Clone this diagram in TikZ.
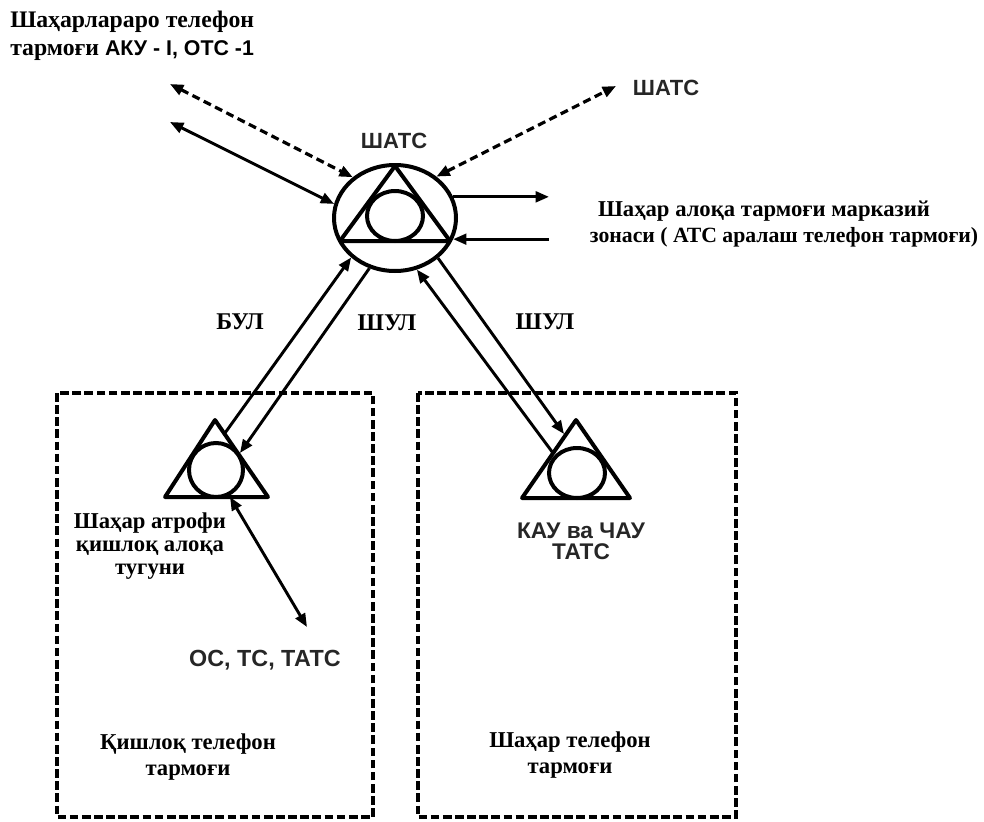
\documentclass[tikz,border=0pt]{standalone}
\usepackage{fontspec}
\setmainfont{Liberation Serif}
\newfontfamily\sansf{Liberation Sans}
\usetikzlibrary{arrows.meta,shapes.geometric}
\begin{document}
\begin{tikzpicture}[x=0.75pt,y=-0.75pt,
  ser/.style={font=\fontsize{17}{20}\selectfont\bfseries, inner sep=0pt, align=center},
  san/.style={font=\sansf\fontsize{16.5}{19}\selectfont\bfseries, inner sep=0pt, align=center, text=black!85},
  conn/.style={line width=2.2pt},
  dconn/.style={line width=2.4pt, dash pattern=on 6pt off 3.5pt},
  boxline/.style={line width=2.4pt, dash pattern=on 6.5pt off 2.6pt},
  sym/.style={line width=3pt, line join=round},
  >={Triangle[length=10pt,width=8pt]}
]
\useasboundingbox (0,0) rectangle (984,821);

% dashed regions
\draw[boxline] (57,393) rectangle (373,817);
\draw[boxline] (418,393) rectangle (736,817);

% central exchange
\node[draw, ellipse, line width=3pt, minimum width=122*0.75pt, minimum height=106*0.75pt, inner sep=0pt] (shats) at (395,218) {};
\draw[sym] (395,166) -- (340,241) -- (450,241) -- cycle;
\node[draw, ellipse, line width=3pt, minimum width=56*0.75pt, minimum height=50*0.75pt, inner sep=0pt] (shatsin) at (395,216) {};
\node[san] (lshats) at (394,141) {ШАТС};

% left node
\draw[sym] (215,420) coordinate (lA) -- (165,497) coordinate (lB) -- (268,497) coordinate (lC) -- cycle;
\node[draw, circle, line width=3pt, minimum size=54*0.75pt, inner sep=0pt] (lnode) at (216,470) {};

% right node
\draw[sym] (576,420) coordinate (rA) -- (522,498) coordinate (rB) -- (630,498) coordinate (rC) -- cycle;
\node[draw, ellipse, line width=3pt, minimum width=56*0.75pt, minimum height=50*0.75pt, inner sep=0pt] (rnode) at (577,473) {};

% coordinates for free ends
\coordinate (ulD) at (170,84);
\coordinate (ulS) at (170,122);
\coordinate (urD) at (616,86);
\coordinate (rEnd) at (549,200);
\coordinate (lAend) at (225,433);
\coordinate (lBend) at (240,453);
\coordinate (rCend) at (553,453);
\coordinate (rDend) at (564,434);
\coordinate (lbase) at (230,497);
\coordinate (osEnd) at (307,627);

% connectors
\draw[dconn,<->] (ulD) -- (shats.136);
\draw[conn,<->] (ulS) -- (shats.167);
\draw[dconn,<->] (shats.45) -- (urD);
\draw[conn,->] (shats.20) -- (shats.20 -| rEnd);
\draw[conn,->] (shats.340 -| rEnd) -- (shats.340);
\draw[conn,->] (lAend) -- (shats.222.5);
\draw[conn,->] (shats.243) -- (lBend);
\draw[conn,->] (rCend) -- (shats.293);
\draw[conn,->] (shats.317) -- (rDend);
\draw[conn,<->] (lbase) -- (osEnd);

% texts
\node[ser, font=\fontsize{17.8}{20.5}\selectfont\bfseries, align=left, anchor=north west] (intl) at (10,11) {Шаҳарлараро телефон\\тармоғи {\sansf\bfseries\fontsize{16}{20.5}\selectfont АКУ - I, ОТС -1}};
\node[san] (rshats) at (666,88) {ШАТС};
\node[ser] (zone1) at (764,211) {Шаҳар алоқа тармоғи марказий};
\node[ser, font=\fontsize{16.3}{19}\selectfont\bfseries] (zone2) at (784,237) {зонаси ( АТС аралаш телефон тармоғи)};
\node[ser, font=\fontsize{18}{20}\selectfont\bfseries] (bul) at (240,322) {БУЛ};
\node[ser, font=\fontsize{18}{20}\selectfont\bfseries] (shul1) at (387,323) {ШУЛ};
\node[ser, font=\fontsize{18}{20}\selectfont\bfseries] (shul2) at (545,322) {ШУЛ};
\node[ser, font=\fontsize{17}{17}\selectfont\bfseries] (rural) at (150,546) {Шаҳар атрофи\\қишлоқ алоқа\\тугуни};
\node[san, font=\sansf\fontsize{17.5}{19}\selectfont\bfseries] (os) at (265,660) {ОС, ТС, ТАТС};
\node[san, font=\sansf\fontsize{17}{16}\selectfont\bfseries] (kau) at (581,541) {КАУ ва ЧАУ\\ТАТС};
\node[ser, font=\fontsize{17}{19}\selectfont\bfseries] (ruralnet) at (188,757) {Қишлоқ телефон\\тармоғи};
\node[ser, font=\fontsize{17}{19}\selectfont\bfseries] (citynet) at (570,755) {Шаҳар телефон\\тармоғи};
\end{tikzpicture}
\end{document}
